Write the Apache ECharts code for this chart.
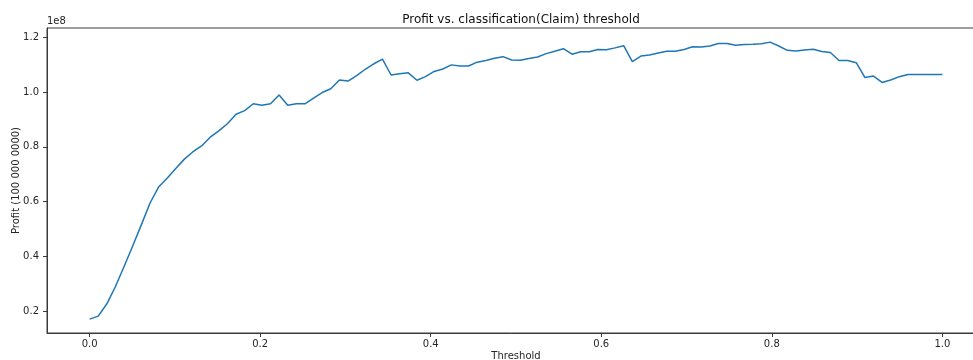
<!DOCTYPE html>
<html>
<head>
<meta charset="utf-8">
<title>Profit vs. classification threshold</title>
<script src="https://cdn.jsdelivr.net/npm/echarts@6/dist/echarts.min.js"></script>
<style>
  html, body { margin: 0; padding: 0; background: #fff; }
  #chart { width: 973px; height: 360px; }
</style>
</head>
<body>
<div id="chart"></div>
<script>
// Classification thresholds (100 evenly spaced steps from 0 to 1)
const thresholds = [
  0.0000, 0.0101, 0.0202, 0.0303, 0.0404, 0.0505, 0.0606, 0.0707, 0.0808, 0.0909,
  0.1010, 0.1111, 0.1212, 0.1313, 0.1414, 0.1515, 0.1616, 0.1717, 0.1818, 0.1919,
  0.2020, 0.2121, 0.2222, 0.2323, 0.2424, 0.2525, 0.2626, 0.2727, 0.2828, 0.2929,
  0.3030, 0.3131, 0.3232, 0.3333, 0.3434, 0.3535, 0.3636, 0.3737, 0.3838, 0.3939,
  0.4040, 0.4141, 0.4242, 0.4343, 0.4444, 0.4545, 0.4646, 0.4747, 0.4848, 0.4949,
  0.5051, 0.5152, 0.5253, 0.5354, 0.5455, 0.5556, 0.5657, 0.5758, 0.5859, 0.5960,
  0.6061, 0.6162, 0.6263, 0.6364, 0.6465, 0.6566, 0.6667, 0.6768, 0.6869, 0.6970,
  0.7071, 0.7172, 0.7273, 0.7374, 0.7475, 0.7576, 0.7677, 0.7778, 0.7879, 0.7980,
  0.8081, 0.8182, 0.8283, 0.8384, 0.8485, 0.8586, 0.8687, 0.8788, 0.8889, 0.8990,
  0.9091, 0.9192, 0.9293, 0.9394, 0.9495, 0.9596, 0.9697, 0.9798, 0.9899, 1.0000
];

// Profit at each threshold, in units of 1e8
const profit = [
  0.171, 0.182, 0.227, 0.290, 0.363, 0.438, 0.515, 0.594, 0.653, 0.685,
  0.721, 0.755, 0.782, 0.803, 0.835, 0.858, 0.884, 0.919, 0.932, 0.957,
  0.952, 0.957, 0.989, 0.952, 0.957, 0.957, 0.978, 0.998, 1.012, 1.044,
  1.040, 1.060, 1.083, 1.103, 1.120, 1.062, 1.067, 1.070, 1.043, 1.056,
  1.075, 1.084, 1.099, 1.095, 1.095, 1.109, 1.115, 1.123, 1.129, 1.117,
  1.116, 1.122, 1.128, 1.140, 1.149, 1.158, 1.138, 1.147, 1.147, 1.155,
  1.154, 1.161, 1.169, 1.111, 1.131, 1.135, 1.142, 1.149, 1.149, 1.155,
  1.165, 1.164, 1.168, 1.177, 1.177, 1.171, 1.173, 1.174, 1.176, 1.182,
  1.168, 1.152, 1.150, 1.153, 1.156, 1.148, 1.144, 1.115, 1.115, 1.107,
  1.053, 1.058, 1.035, 1.044, 1.056, 1.064, 1.064, 1.064, 1.064, 1.064
];

// Tick positions
const xTicks = [0.0, 0.2, 0.4, 0.6, 0.8, 1.0];
const yTicks = [0.2, 0.4, 0.6, 0.8, 1.0, 1.2];

const FONT = 'DejaVu Sans';
const TEXT = '#262626';
const FRAME = '#3a3a3a';

const chart = echarts.init(document.getElementById('chart'), null, { renderer: 'canvas' });

const points = thresholds.map((t, i) => [t, profit[i]]);

chart.setOption({
  animation: false,
  backgroundColor: '#ffffff',
  title: {
    text: 'Profit vs. classification(Claim) threshold',
    left: 516,
    top: 9,
    textAlign: 'center',
    textStyle: { fontFamily: FONT, fontSize: 12, fontWeight: 'normal', color: '#111' }
  },
  graphic: [{
    type: 'text',
    left: 47,
    top: 16,
    style: { text: '1e8', fontFamily: FONT, fontSize: 10, fill: TEXT }
  }],
  grid: {
    left: 47,
    right: -12,
    top: 28,
    bottom: 27,
    containLabel: false,
    outerBoundsMode: 'none',
    show: true,
    borderColor: FRAME,
    borderWidth: 1,
    backgroundColor: 'transparent'
  },
  xAxis: {
    type: 'value',
    min: -0.05,
    max: 1.05,
    name: 'Threshold',
    nameLocation: 'middle',
    nameGap: 18,
    nameMoveOverlap: false,
    nameTextStyle: { fontFamily: FONT, fontSize: 10, color: TEXT },
    axisLine: { show: true, onZero: false, lineStyle: { color: FRAME, width: 1 } },
    axisTick: { show: true, length: 4, inside: false, customValues: xTicks, lineStyle: { color: FRAME } },
    axisLabel: {
      customValues: xTicks,
      margin: 6,
      fontFamily: FONT, fontSize: 10, color: TEXT,
      formatter: v => v.toFixed(1)
    },
    splitLine: { show: false }
  },
  yAxis: {
    type: 'value',
    min: 0.1204,
    max: 1.2336,
    name: 'Profit (100 000 0000)',
    nameLocation: 'middle',
    nameRotate: 90,
    nameGap: 26,
    nameMoveOverlap: false,
    nameTextStyle: { fontFamily: FONT, fontSize: 10, color: TEXT },
    axisLine: { show: true, onZero: false, lineStyle: { color: FRAME, width: 1 } },
    axisTick: { show: true, length: 4, inside: false, customValues: yTicks, lineStyle: { color: FRAME } },
    axisLabel: {
      customValues: yTicks,
      margin: 8,
      fontFamily: FONT, fontSize: 10, color: TEXT,
      formatter: v => v.toFixed(1)
    },
    splitLine: { show: false }
  },
  series: [{
    type: 'line',
    data: points,
    showSymbol: false,
    symbol: 'none',
    lineStyle: { color: '#1f77b4', width: 1.5 },
    z: 3
  }]
});
</script>
</body>
</html>
